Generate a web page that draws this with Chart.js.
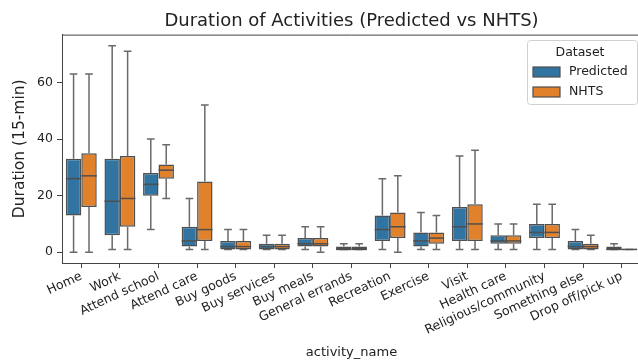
<!DOCTYPE html>
<html>
<head>
<meta charset="utf-8">
<script src="https://cdn.jsdelivr.net/npm/chart.js@4"></script>
<style>
  html, body { margin: 0; padding: 0; background: #fff; overflow: hidden; }
  #wrap { width: 660px; height: 360px; }
</style>
</head>
<body>
<div id="wrap"><canvas id="boxChart" width="660" height="360"></canvas></div>
<script>
// Kategorie i statystyki pudełek (min, Q1, mediana, Q3, max)
const activities = ['Home', 'Work', 'Attend school', 'Attend care', 'Buy goods', 'Buy services',
    'Buy meals', 'General errands', 'Recreation', 'Exercise', 'Visit', 'Health care',
    'Religious/community', 'Something else', 'Drop off/pick up'];

const predMin    = [0, 1, 8, 1, 1, 1, 1, 1, 1, 1, 1, 1, 1, 1, 1];
const predQ1     = [13, 6, 20, 2, 1, 1, 2, 1, 4, 2, 4, 3, 5, 1, 1];
const predMedian = [26, 18, 24, 4, 2, 2, 3, 1, 8, 4, 9, 4, 7, 2, 1];
const predQ3     = [33, 33, 28, 9, 4, 3, 5, 2, 13, 7, 16, 6, 10, 4, 2];
const predMax    = [63, 73, 40, 19, 8, 6, 9, 3, 26, 14, 34, 10, 17, 8, 3];

const nhtsMin    = [0, 1, 19, 1, 1, 1, 0, 1, 0, 1, 1, 1, 1, 1, 1];
const nhtsQ1     = [16, 9, 26, 4, 1, 1, 2, 1, 5, 3, 4, 3, 5, 1, 1];
const nhtsMedian = [27, 19, 29, 8, 2, 2, 3, 1, 9, 5, 10, 4, 7, 2, 1];
const nhtsQ3     = [35, 34, 31, 25, 4, 3, 5, 2, 14, 7, 17, 6, 10, 3, 1];
const nhtsMax    = [63, 71, 38, 52, 8, 6, 9, 3, 27, 13, 36, 10, 17, 6, 1];

const yTicks = [0, 20, 40, 60];

const seriesNames = ['Predicted', 'NHTS'];
const seriesColors = ['#3274a1', '#e1812c'];
const lineColor = '#4f4f4f';
const whiskerColor = '#6a6a6a';

const stats = [
    { min: predMin, q1: predQ1, med: predMedian, q3: predQ3, max: predMax },
    { min: nhtsMin, q1: nhtsQ1, med: nhtsMedian, q3: nhtsQ3, max: nhtsMax }
];

// Wąsy (pod pudełkami) i mediany (nad pudełkami)
const boxPlugin = {
    id: 'boxParts',
    beforeDatasetsDraw(chart) {
        const ctx = chart.ctx;
        const y = chart.scales.y;
        ctx.save();
        ctx.strokeStyle = whiskerColor;
        ctx.lineWidth = 1.5;
        stats.forEach((s, d) => {
            chart.getDatasetMeta(d).data.forEach((bar, i) => {
                const x = bar.x;
                const cap = bar.width / 4;
                const yMin = y.getPixelForValue(s.min[i]);
                const yQ1 = y.getPixelForValue(s.q1[i]);
                const yQ3 = y.getPixelForValue(s.q3[i]);
                const yMax = y.getPixelForValue(s.max[i]);
                ctx.beginPath();
                ctx.moveTo(x, yQ3); ctx.lineTo(x, yMax);
                ctx.moveTo(x, yQ1); ctx.lineTo(x, yMin);
                ctx.moveTo(x - cap, yMax); ctx.lineTo(x + cap, yMax);
                ctx.moveTo(x - cap, yMin); ctx.lineTo(x + cap, yMin);
                ctx.stroke();
            });
        });
        ctx.restore();
    },
    afterDatasetsDraw(chart) {
        const ctx = chart.ctx;
        const y = chart.scales.y;
        ctx.save();
        ctx.strokeStyle = lineColor;
        ctx.lineWidth = 1.5;
        stats.forEach((s, d) => {
            chart.getDatasetMeta(d).data.forEach((bar, i) => {
                const half = bar.width / 2;
                const ym = y.getPixelForValue(s.med[i]);
                ctx.beginPath();
                ctx.moveTo(bar.x - half, ym);
                ctx.lineTo(bar.x + half, ym);
                ctx.stroke();
            });
        });
        // górna krawędź ramki
        const a = chart.chartArea;
        ctx.strokeStyle = '#444';
        ctx.lineWidth = 1;
        ctx.beginPath();
        ctx.moveTo(a.left, a.top + 0.5);
        ctx.lineTo(a.right, a.top + 0.5);
        ctx.moveTo(a.right - 0.5, a.top);
        ctx.lineTo(a.right - 0.5, a.bottom);
        ctx.stroke();
        ctx.restore();
    },
    afterDraw(chart) {
        // Legenda w prawym górnym rogu
        const ctx = chart.ctx;
        const lx = 527, ly = 40, lw = 110, lh = 64;
        ctx.save();
        ctx.fillStyle = 'rgba(255,255,255,0.85)';
        ctx.strokeStyle = '#d0d0d0';
        ctx.lineWidth = 1;
        ctx.beginPath();
        ctx.roundRect(lx + 0.5, ly + 0.5, lw, lh, 3);
        ctx.fill();
        ctx.stroke();
        ctx.fillStyle = '#222';
        ctx.font = '12.5px "DejaVu Sans"';
        ctx.textAlign = 'center';
        ctx.textBaseline = 'middle';
        ctx.fillText('Dataset', 580, 53);
        ctx.textAlign = 'left';
        seriesNames.forEach((name, k) => {
            const ry = 67 + k * 20;
            ctx.fillStyle = seriesColors[k];
            ctx.fillRect(533, ry, 27, 10);
            ctx.strokeStyle = lineColor;
            ctx.lineWidth = 1.2;
            ctx.strokeRect(533, ry, 27, 10);
            ctx.fillStyle = '#222';
            ctx.fillText(name, 569, ry + 5);
        });
        ctx.restore();
    }
};

const ctx = document.getElementById('boxChart').getContext('2d');
const boxChart = new Chart(ctx, {
    type: 'bar',
    data: {
        labels: activities,
        datasets: stats.map((s, d) => ({
            label: seriesNames[d],
            data: s.q1.map((v, i) => [v, s.q3[i]]),
            backgroundColor: seriesColors[d],
            borderColor: lineColor,
            borderWidth: 1.5,
            borderSkipped: false,
            categoryPercentage: 0.8,
            barPercentage: 1.0
        }))
    },
    options: {
        responsive: false,
        animation: false,
        layout: { padding: { left: 0, right: 19, top: 0, bottom: 0 } },
        plugins: {
            legend: { display: false },
            tooltip: { enabled: false },
            title: {
                display: true,
                text: 'Duration of Activities (Predicted vs NHTS)',
                fullSize: false,
                color: '#222',
                font: { family: 'DejaVu Sans', size: 18, weight: 'normal' },
                padding: { top: 11, bottom: 2 }
            }
        },
        scales: {
            x: {
                offset: true,
                grid: { offset: false, drawOnChartArea: false, tickLength: 5, color: '#444' },
                border: { color: '#444' },
                ticks: {
                    color: '#222',
                    font: { family: 'DejaVu Sans', size: 12.5 },
                    minRotation: 25,
                    maxRotation: 25,
                    autoSkip: false,
                    padding: 1
                },
                title: {
                    display: true,
                    text: 'activity_name',
                    color: '#222',
                    font: { family: 'DejaVu Sans', size: 13 },
                    padding: { top: 0, bottom: 0 }
                },
                afterFit(scale) { scale.height = 97; }
            },
            y: {
                min: -3.8,
                max: 76.9,
                afterBuildTicks(scale) { scale.ticks = yTicks.map(v => ({ value: v })); },
                grid: { drawOnChartArea: false, tickLength: 5, color: '#444' },
                border: { color: '#444' },
                ticks: {
                    color: '#222',
                    font: { family: 'DejaVu Sans', size: 12.5 },
                    padding: 4
                },
                title: {
                    display: true,
                    text: 'Duration (15-min)',
                    color: '#222',
                    font: { family: 'DejaVu Sans', size: 15.5 },
                    padding: { top: 11, bottom: 0 }
                },
                afterFit(scale) { scale.width = 62; }
            }
        }
    },
    plugins: [boxPlugin]
});
</script>
</body>
</html>
